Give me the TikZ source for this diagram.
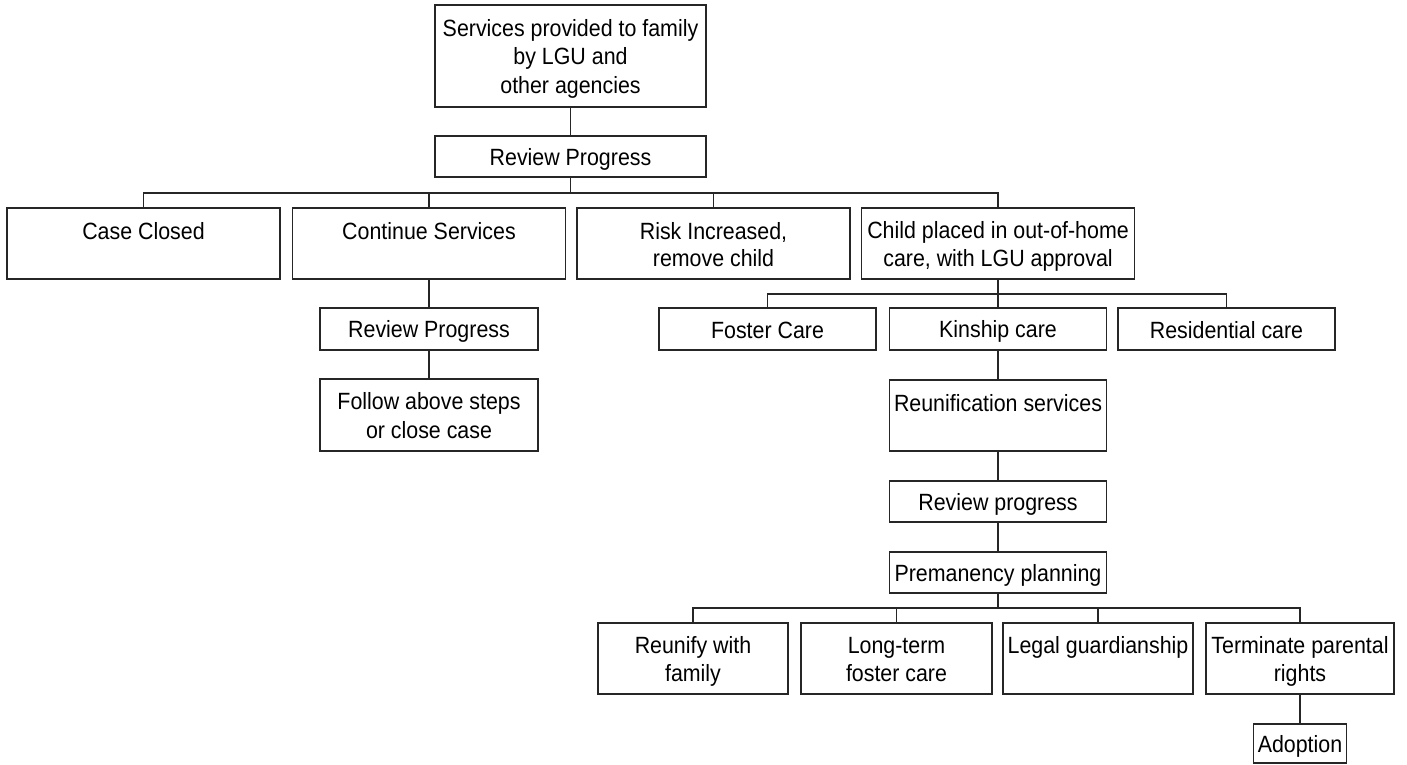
\documentclass[tikz,border=0pt]{standalone}
\usepackage{fontspec}
\setmainfont{Liberation Sans}[FakeStretch=0.91]
\newcommand\mystrut{\rule[-4.5pt]{0pt}{27pt}}
\begin{document}
\begin{tikzpicture}[x=1pt,y=-1pt,
  box/.style={draw=black!85,line width=1.2pt,fill=white,inner sep=0pt,align=center,
    font=\fontsize{23.5}{27}\selectfont},
  link/.style={draw=black!85,line width=1.3pt}]
\useasboundingbox[fill=white] (0,0) rectangle (1407,765);
% top
\node[box,minimum width=271,minimum height=102] (top) at (570.5,56)
  {\mystrut Services provided to family\\\mystrut by LGU and\\\mystrut other agencies};
\node[box,minimum width=271,minimum height=41] (rp1) at (570.5,156.5) {\mystrut Review Progress};
% level 1
\node[box,minimum width=273,minimum height=71] (cc) at (143.5,243.5) {\mystrut Case Closed\\\mystrut};
\node[box,minimum width=273,minimum height=71] (cs) at (429,243.5) {\mystrut Continue Services\\\mystrut};
\node[box,minimum width=273,minimum height=71] (ri) at (713.5,243.5) {\mystrut Risk Increased,\\\mystrut remove child};
\node[box,minimum width=273,minimum height=71] (cp) at (998,243.5) {\mystrut Child placed in out-of-home\\\mystrut care, with LGU approval};
% continue branch
\node[box,minimum width=218,minimum height=42] (rp2) at (429,329) {\mystrut Review Progress};
\node[box,minimum width=218,minimum height=72] (fa) at (429,415) {\mystrut Follow above steps\\\mystrut or close case};
% care types
\node[box,minimum width=217,minimum height=42] (fc) at (767.5,329) {\mystrut Foster Care};
\node[box,minimum width=217,minimum height=42] (kc) at (998,329) {\mystrut Kinship care};
\node[box,minimum width=217,minimum height=42] (rc) at (1226.5,329) {\mystrut Residential care};
% kinship chain
\node[box,minimum width=217,minimum height=71] (rs) at (998,415.5) {\mystrut Reunification services\\\mystrut};
\node[box,minimum width=217,minimum height=41] (rp3) at (998,501.5) {\mystrut Review progress};
\node[box,minimum width=217,minimum height=41] (pp) at (998,572.5) {\mystrut Premanency planning};
% outcomes
\node[box,minimum width=190,minimum height=71] (rf) at (693,658.5) {\mystrut Reunify with\\\mystrut family};
\node[box,minimum width=191,minimum height=71] (lt) at (896.5,658.5) {\mystrut Long-term\\\mystrut foster care};
\node[box,minimum width=190,minimum height=71] (lg) at (1098,658.5) {\mystrut Legal guardianship\\\mystrut};
\node[box,minimum width=188,minimum height=71] (tp) at (1300,658.5) {\mystrut Terminate parental\\\mystrut rights};
\node[box,minimum width=93,minimum height=39] (ad) at (1300,743.5) {\mystrut Adoption};
% bus points
\coordinate (b1) at (570.5,193);
\coordinate (b2) at (998,294);
\coordinate (b3) at (998,608);
% connectors
\draw[link] (top.south) -- (rp1.north);
\draw[link] (rp1.south) -- (b1);
\draw[link] (cc.north) |- (b1);
\draw[link] (cs.north) |- (b1);
\draw[link] (ri.north) |- (b1);
\draw[link] (cp.north) |- (b1);
\draw[link] (cs.south) -- (rp2.north);
\draw[link] (rp2.south) -- (fa.north);
\draw[link] (cp.south) -- (b2);
\draw[link] (fc.north) |- (b2);
\draw[link] (kc.north) |- (b2);
\draw[link] (rc.north) |- (b2);
\draw[link] (kc.south) -- (rs.north);
\draw[link] (rs.south) -- (rp3.north);
\draw[link] (rp3.south) -- (pp.north);
\draw[link] (pp.south) -- (b3);
\draw[link] (rf.north) |- (b3);
\draw[link] (lt.north) |- (b3);
\draw[link] (lg.north) |- (b3);
\draw[link] (tp.north) |- (b3);
\draw[link] (tp.south) -- (ad.north);
\end{tikzpicture}
\end{document}
